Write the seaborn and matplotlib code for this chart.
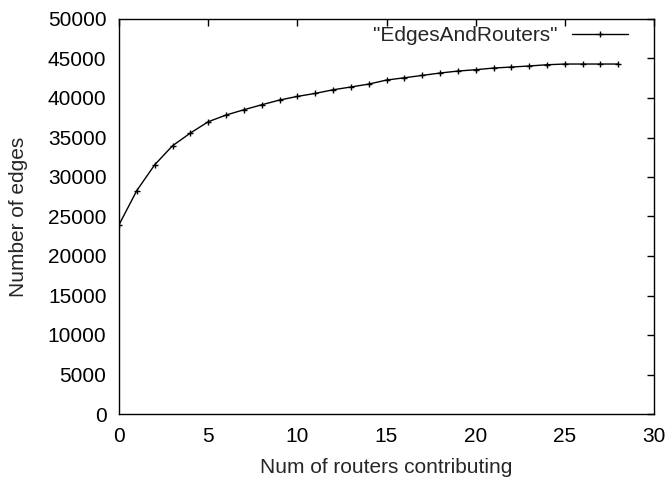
import numpy as np
import pandas as pd
import matplotlib
matplotlib.use("Agg")
import matplotlib.pyplot as plt
import seaborn as sns

routers = list(range(29))
edges = [23950, 28290, 31540, 33950, 35560, 36990, 37840, 38510, 39140, 39740,
         40200, 40580, 41040, 41390, 41760, 42270, 42560, 42860, 43160, 43410,
         43580, 43790, 43920, 44050, 44210, 44300, 44300, 44300, 44300]
series_name = '"EdgesAndRouters"'

sns.set_theme(style="white")
plt.rcParams['font.family'] = ['Liberation Sans', 'DejaVu Sans']

df = pd.DataFrame({'routers': routers, 'edges': edges})

fig = plt.figure(figsize=(6.68, 4.78), dpi=100)
ax = fig.add_axes([119/668, 1 - 414/478, (654 - 119)/668, (414 - 19)/478])

sns.lineplot(data=df, x='routers', y='edges', ax=ax, color='black', linewidth=1,
             marker='+', markersize=5, markeredgewidth=1, markeredgecolor='black',
             label=series_name)

ax.set_xlim(0, 30)
ax.set_ylim(0, 50000)
ax.set_xticks(np.arange(0, 31, 5))
ax.set_yticks(np.arange(0, 50001, 5000))
ax.tick_params(direction='in', length=5, width=1, top=True, right=True,
               labelsize=15, colors='black', pad=9)
for s in ax.spines.values():
    s.set_color('black')
    s.set_linewidth(1)

ax.set_xlabel('Num of routers contributing', fontsize=15, labelpad=9)
ax.set_ylabel('Number of edges', fontsize=15, labelpad=14)

leg = ax.legend(loc='upper right', bbox_to_anchor=(0.9514, 0.982), frameon=False,
                markerfirst=False, fontsize=15, handlelength=2.7,
                borderaxespad=0, borderpad=0, handletextpad=0.7)

fig.savefig('out.png', dpi=100)
